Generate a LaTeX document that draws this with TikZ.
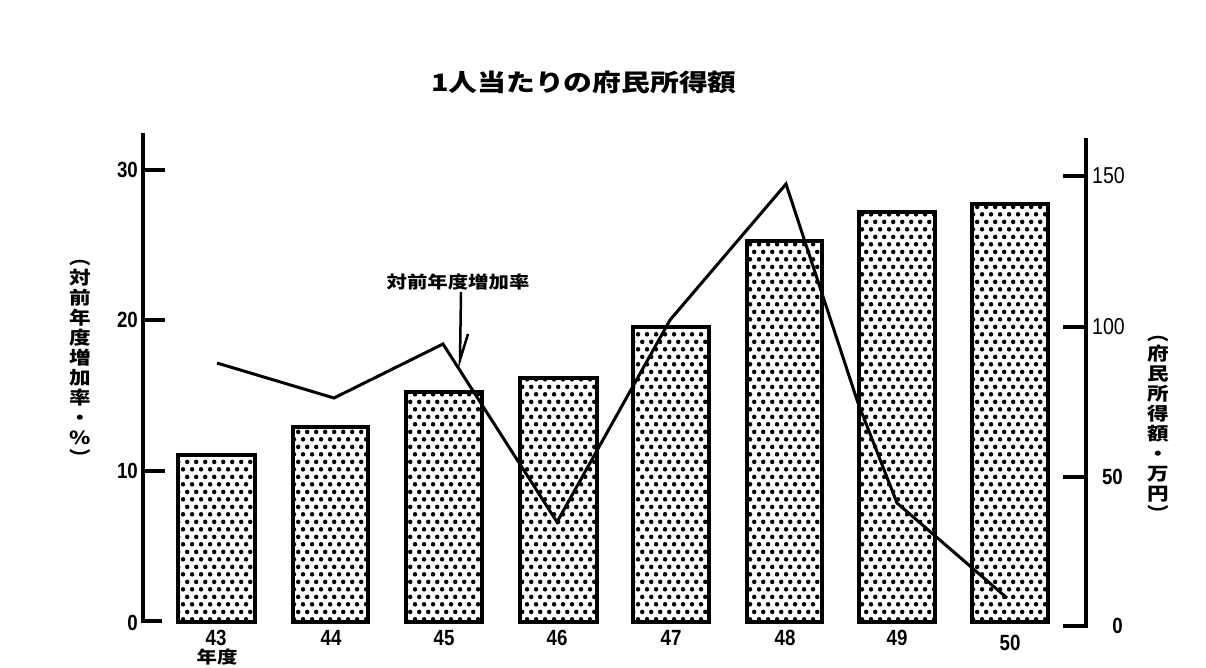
\documentclass[tikz,border=0pt]{standalone}
\usepackage{fontspec}
\usetikzlibrary{patterns,patterns.meta}
\newfontfamily\jp[FakeStretch=1.2]{Noto Sans CJK JP}
\newfontfamily\num[FakeStretch=0.85]{Liberation Sans}
\pgfdeclarepattern{
  name=hexdots,
  type=uncolored,
  bottom left={\pgfpoint{0pt}{0pt}},
  top right={\pgfpoint{8.6pt}{14.9pt}},
  tile size={\pgfpoint{8.6pt}{14.9pt}},
  code={
    \pgfpathcircle{\pgfpoint{2.15pt}{3.72pt}}{2.3pt}
    \pgfpathcircle{\pgfpoint{6.45pt}{11.17pt}}{2.3pt}
    \pgfusepath{fill}
  }
}
\begin{document}
\begin{tikzpicture}[x=1pt,y=-1pt,
  axisline/.style={line width=4pt},
  tickline/.style={line width=3.5pt},
  barbox/.style={draw, line width=3.2pt, pattern=hexdots},
  rateline/.style={line width=3pt, line join=miter},
  pointer/.style={line width=2.5pt},
  lticklbl/.style={font=\num\bfseries\fontsize{22}{22}\selectfont, inner sep=0pt, anchor=east},
  rticklbl/.style={font=\num\fontsize{23}{23}\selectfont, inner sep=0pt, anchor=east},
  yearlbl/.style={font=\num\bfseries\fontsize{22}{22}\selectfont, inner sep=0pt},
  vlabel/.style={font=\jp\bfseries\fontsize{18}{20}\selectfont, align=center, inner sep=0pt},
  annot/.style={font=\jp\bfseries\fontsize{17}{20}\selectfont, inner sep=0pt},
  titlelbl/.style={font=\jp\bfseries\fontsize{24}{26}\selectfont, inner sep=0pt}]
\useasboundingbox (0,0) rectangle (1206,667);
\fill[white] (0,0) rectangle (1206,667);

% title
\node[titlelbl] (title) at (584,82) {1人当たりの府民所得額};

% bars
\draw[barbox] (178,622) rectangle (255,455);
\draw[barbox] (293,622) rectangle (368,427);
\draw[barbox] (406,622) rectangle (482,392);
\draw[barbox] (520,622) rectangle (597,378);
\draw[barbox] (633,622) rectangle (709,327);
\draw[barbox] (747,622) rectangle (822,241);
\draw[barbox] (859,622) rectangle (935,212);
\draw[barbox] (972,622) rectangle (1048,204);

% left axis
\coordinate (ltop) at (143,133);
\coordinate (lbot) at (143,623);
\draw[axisline] (ltop) -- (lbot);
\draw[tickline] (141,621) -- (162,621);
\draw[tickline] (143,471) -- (165,471);
\draw[tickline] (143,320) -- (165,320);
\draw[tickline] (143,170) -- (165,170);
\node[lticklbl] (l0) at (138,623) {0};
\node[lticklbl] (l10) at (138,471) {10};
\node[lticklbl] (l20) at (138,320) {20};
\node[lticklbl] (l30) at (138,170) {30};

% right axis
\coordinate (rtop) at (1086,138);
\coordinate (rbot) at (1086,628);
\draw[axisline] (rtop) -- (rbot);
\draw[tickline] (1063,626) -- (1088,626);
\draw[tickline] (1063,477) -- (1086,477);
\draw[tickline] (1063,327) -- (1086,327);
\draw[tickline] (1063,176) -- (1086,176);
\node[rticklbl, font=\num\bfseries\fontsize{22}{22}\selectfont] (r0) at (1123,626) {0};
\node[rticklbl, font=\num\bfseries\fontsize{22}{22}\selectfont] (r50) at (1123,477) {50};
\node[rticklbl] (r100) at (1125,327) {100};
\node[rticklbl] (r150) at (1125,176) {150};

% axis titles
\node[vlabel] (ylabL) at (80,362) {︵\\対\\前\\年\\度\\増\\加\\率\\・\\\%\\︶};
\node[vlabel] (ylabR) at (1158,428) {︵\\府\\民\\所\\得\\額\\・\\万\\円\\︶};

% year labels
\node[yearlbl] (y43) at (216,638) {43};
\node[yearlbl] (y44) at (331,638) {44};
\node[yearlbl] (y45) at (444,638) {45};
\node[yearlbl] (y46) at (557,638) {46};
\node[yearlbl] (y47) at (671,638) {47};
\node[yearlbl] (y48) at (785,638) {48};
\node[yearlbl] (y49) at (897,638) {49};
\node[yearlbl] (y50) at (1010,643) {50};
\node[annot] (nendo) at (217,657) {年度};

% rate line
\coordinate (p43) at (217,363);
\coordinate (p44) at (334,398);
\coordinate (p45) at (443,344);
\coordinate (p46) at (557,522);
\coordinate (p47) at (670,320);
\coordinate (p48) at (786,184);
\coordinate (p48b) at (858,403);
\coordinate (p49) at (897,503);
\coordinate (p50) at (1007,598);
\draw[rateline] (p43) -- (p44) -- (p45) -- (p46) -- (p47) -- (p48) -- (p48b) -- (p49) -- (p50);

% annotation
\node[annot] (ann) at (458,282) {対前年度増加率};
\coordinate (q1) at (461,292);
\coordinate (q2) at (460,360);
\coordinate (q3) at (468,334);
\draw[pointer] (q1) -- (q2) -- (q3);
\end{tikzpicture}
\end{document}
